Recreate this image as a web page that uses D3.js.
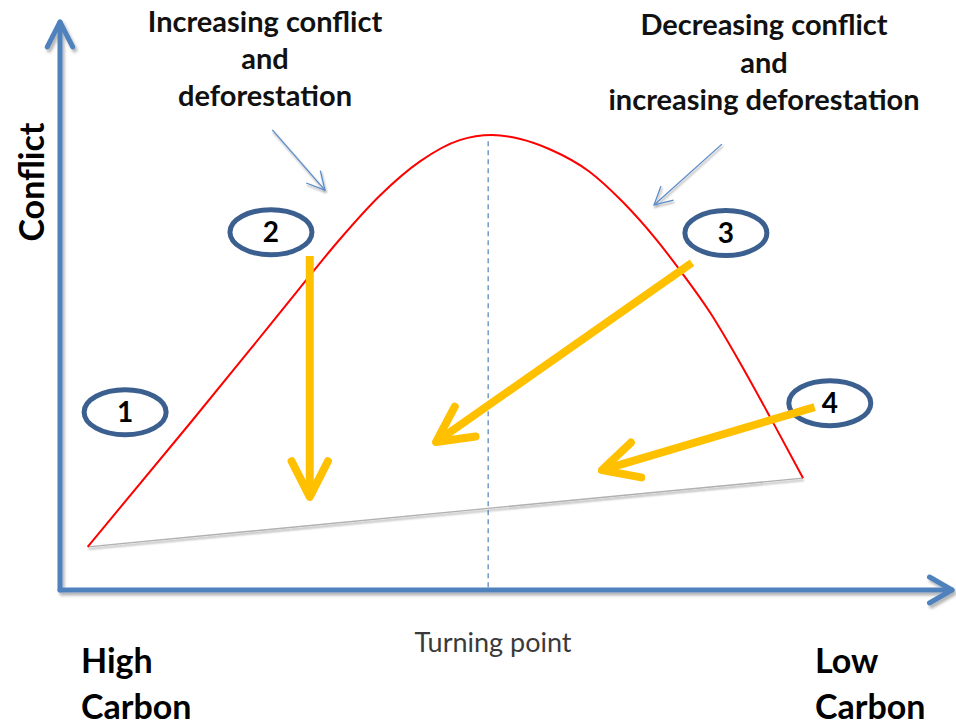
<!DOCTYPE html>
<html>
<head>
<meta charset="utf-8">
<script src="https://cdn.jsdelivr.net/npm/d3@7"></script>
<style>
  html, body { margin: 0; padding: 0; background: #fff; }
  svg { display: block; }
  text { font-family: Lato, "Open Sans", sans-serif; }
</style>
</head>
<body>
<svg id="chart" width="956" height="727"></svg>
<script>
// ---------- data (conceptual units: 0..100 on both axes) ----------
const curveX = [3.1, 14.6, 21.3, 26.9, 31.4, 35.9, 40.4, 44.8, 48.4, 51.6, 54.9, 59.4, 63.1, 66.9, 69.5, 72.9, 76.2, 79.9, 83.3];
const curveY = [7.6, 29.4, 42.3, 53.2, 61.8, 69.5, 75.5, 79.2, 80.1, 79.4, 77.6, 73.6, 68.3, 61.6, 56.3, 48.8, 40.1, 29.6, 19.7];

const baseX = [3.1, 83.3];
const baseY = [7.6, 19.7];

const turningPointX = 48.0;
const turningPointTop = 79.0;

const stageLabels = ["1", "2", "3", "4"];
const stageX = [7.3, 23.65, 74.65, 86.3];
const stageY = [31.3, 63.0, 62.85, 32.9];

// orange "shift" arrows
const shiftFromX = [28.0, 70.85, 84.6];
const shiftFromY = [58.8, 57.6, 32.2];
const shiftToX   = [28.0, 42.15, 60.75];
const shiftToY   = [16.4, 26.05, 21.1];

// thin callout arrows
const calloutFromX = [23.8, 74.2];
const calloutFromY = [81.0, 78.5];
const calloutToX   = [29.7, 66.6];
const calloutToY   = [70.4, 67.8];

const leftNoteLines  = ["Increasing conflict", "and", "deforestation"];
const rightNoteLines = ["Decreasing conflict", "and", "increasing deforestation"];
const yAxisLabel = "Conflict";
const xStartLabel = ["High", "Carbon"];
const xEndLabel = ["Low", "Carbon"];
const turningLabel = "Turning point";

// ---------- scales ----------
const svg = d3.select("#chart");
const x = d3.scaleLinear().domain([0, 100]).range([60, 952]);
const y = d3.scaleLinear().domain([0, 100]).range([590, 22]);

// ---------- defs ----------
const defs = svg.append("defs");
const sh = defs.append("filter").attr("id", "shadow")
  .attr("x", "-10%").attr("y", "-10%").attr("width", "130%").attr("height", "140%");
sh.append("feDropShadow").attr("dx", 2).attr("dy", 3).attr("stdDeviation", 1.6)
  .attr("flood-color", "#000").attr("flood-opacity", 0.3);
const sh2 = defs.append("filter").attr("id", "shadow2")
  .attr("x", "-10%").attr("y", "-50%").attr("width", "130%").attr("height", "300%");
sh2.append("feDropShadow").attr("dx", 1).attr("dy", 2).attr("stdDeviation", 1.2)
  .attr("flood-color", "#000").attr("flood-opacity", 0.4);

function chevron(x1, y1, x2, y2, len, angDeg) {
  const a = Math.atan2(y1 - y2, x1 - x2);
  const t = angDeg * Math.PI / 180;
  const p1 = [x2 + len * Math.cos(a + t), y2 + len * Math.sin(a + t)];
  const p2 = [x2 + len * Math.cos(a - t), y2 + len * Math.sin(a - t)];
  return `M${p1[0]},${p1[1]}L${x2},${y2}L${p2[0]},${p2[1]}`;
}

// ---------- axes ----------
const axisG = svg.append("g").attr("filter", "url(#shadow)")
  .attr("fill", "none").attr("stroke", "#4F81BD").attr("stroke-width", 5)
  .attr("stroke-linecap", "round").attr("stroke-linejoin", "round");
axisG.append("path").attr("d", `M${x(0)},${y(0)}L${x(0)},${y(100)}`);
axisG.append("path").attr("d", chevron(x(0), y(0), x(0), y(100), 28, 27));
axisG.append("path").attr("d", `M${x(0)},${y(0)}L${x(100)},${y(0)}`);
axisG.append("path").attr("d", chevron(x(0), y(0), x(100), y(0), 26, 30));

// ---------- turning point dashed line ----------
svg.append("line")
  .attr("x1", x(turningPointX)).attr("x2", x(turningPointX))
  .attr("y1", y(turningPointTop)).attr("y2", y(0))
  .attr("stroke", "#4F81BD").attr("stroke-width", 1.2)
  .attr("stroke-dasharray", "5,4");

// ---------- baseline ----------
svg.append("line")
  .attr("x1", x(baseX[0])).attr("y1", y(baseY[0]))
  .attr("x2", x(baseX[1])).attr("y2", y(baseY[1]))
  .attr("stroke", "#b0b0b0").attr("stroke-width", 1.4)
  .attr("filter", "url(#shadow2)");

// ---------- red curve ----------
const pts = curveX.map((d, i) => [x(d), y(curveY[i])]);
svg.append("path")
  .attr("d", d3.line().curve(d3.curveMonotoneX)(pts))
  .attr("fill", "none").attr("stroke", "#FF0000").attr("stroke-width", 2);

// ---------- stage ellipses ----------
const stages = svg.append("g");
stageLabels.forEach((lab, i) => {
  stages.append("ellipse")
    .attr("cx", x(stageX[i])).attr("cy", y(stageY[i]))
    .attr("rx", 41).attr("ry", 22.5)
    .attr("fill", "#fff").attr("stroke", "#3B5F8F").attr("stroke-width", 5);
  stages.append("text")
    .attr("x", x(stageX[i])).attr("y", y(stageY[i]) + 10)
    .attr("text-anchor", "middle").attr("font-size", 28).attr("font-weight", "bold")
    .attr("fill", "#000").text(lab);
});

// ---------- orange arrows ----------
const oa = svg.append("g").attr("fill", "none").attr("stroke", "#FFC000")
  .attr("stroke-width", 8).attr("stroke-linecap", "round").attr("stroke-linejoin", "round");
shiftFromX.forEach((d, i) => {
  const x1 = x(d), y1 = y(shiftFromY[i]), x2 = x(shiftToX[i]), y2 = y(shiftToY[i]);
  oa.append("path").attr("d", `M${x1},${y1}L${x2},${y2}`).attr("stroke-linecap", "butt");
  oa.append("path").attr("d", chevron(x1, y1, x2, y2, 40, 27));
});

// ---------- callout arrows ----------
const ca = svg.append("g").attr("fill", "none").attr("stroke", "#5B8BC9")
  .attr("stroke-width", 1.3).attr("filter", "url(#shadow2)");
calloutFromX.forEach((d, i) => {
  const x1 = x(d), y1 = y(calloutFromY[i]), x2 = x(calloutToX[i]), y2 = y(calloutToY[i]);
  ca.append("path").attr("d", `M${x1},${y1}L${x2},${y2}`);
  ca.append("path").attr("d", chevron(x1, y1, x2, y2, 20, 28));
});

// ---------- text ----------
function block(lines, cx, y0, dy, size) {
  const t = svg.append("text").attr("text-anchor", "middle")
    .attr("font-size", size).attr("font-weight", "bold").attr("fill", "#111");
  lines.forEach((l, i) => t.append("tspan").attr("x", cx).attr("y", y0 + i * dy).text(l));
}
block(leftNoteLines, 265, 32, 37, 29);
block(rightNoteLines, 764, 35, 37.5, 29);

svg.append("text")
  .attr("transform", `translate(44,182) rotate(-90)`)
  .attr("text-anchor", "middle").attr("font-size", 34).attr("font-weight", "bold")
  .attr("fill", "#000").text(yAxisLabel);

svg.append("text").attr("x", 493).attr("y", 652)
  .attr("text-anchor", "middle").attr("font-size", 27).attr("fill", "#3a3a3a")
  .text(turningLabel);

function corner(lines, xx) {
  const t = svg.append("text").attr("font-size", 34).attr("font-weight", "bold").attr("fill", "#000");
  lines.forEach((l, i) => t.append("tspan").attr("x", xx).attr("y", 673 + i * 46).text(l));
}
corner(xStartLabel, 81);
corner(xEndLabel, 815);
</script>
</body>
</html>
